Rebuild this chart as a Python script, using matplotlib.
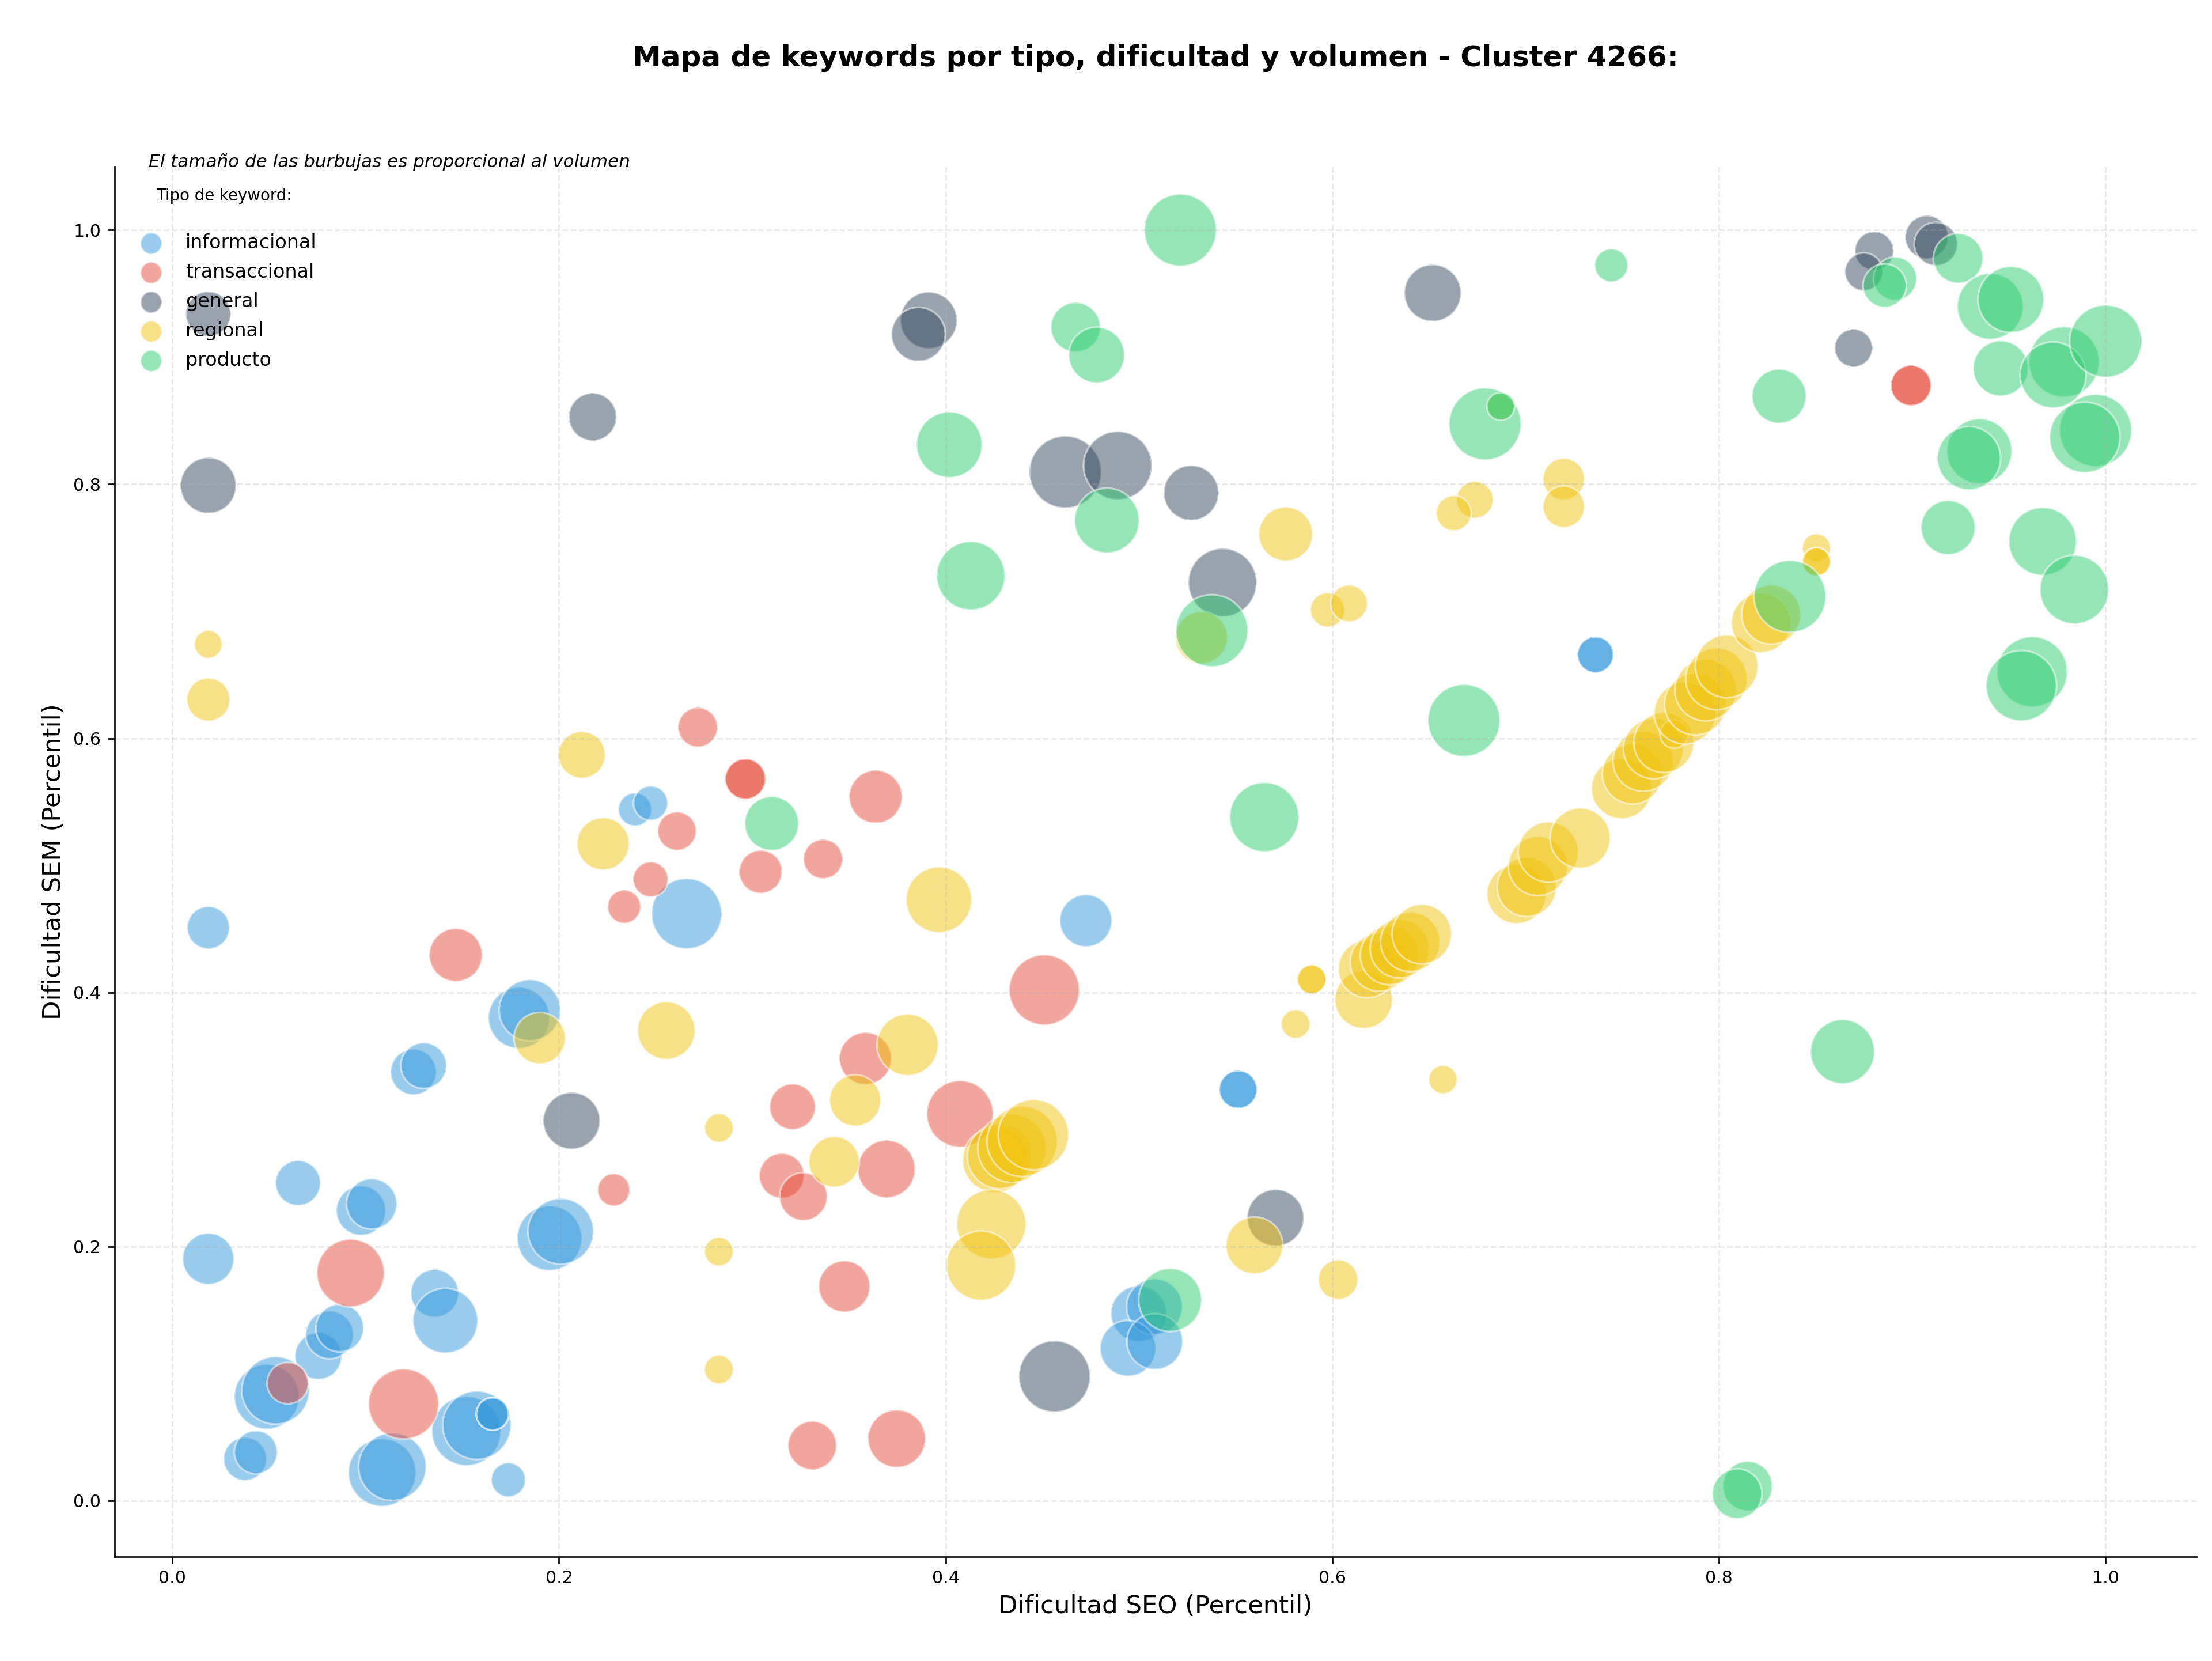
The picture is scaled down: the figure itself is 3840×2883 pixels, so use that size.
import matplotlib
matplotlib.use("Agg")
import matplotlib.pyplot as plt

# Dificultad SEO (x), dificultad SEM (y) y volumen de cada keyword, por tipo
info_x = [0.2393, 0.2474, 0.266, 0.0186, 0.1793, 0.1849, 0.1247, 0.130, 0.065, 0.0976,
          0.1031, 0.0186, 0.1951, 0.2009, 0.1357, 0.1412, 0.0755, 0.0813, 0.0866, 0.0488,
          0.0534, 0.1521, 0.1575, 0.1656, 0.1656, 0.0376, 0.0432, 0.1085, 0.1138, 0.1738,
          0.4725, 0.4999, 0.508, 0.4943, 0.5082, 0.5513, 0.5513, 0.7361, 0.7361]
info_y = [0.544, 0.549, 0.462, 0.451, 0.380, 0.386, 0.3374, 0.3424, 0.25, 0.2283,
          0.2336, 0.1903, 0.2066, 0.212, 0.1632, 0.1416, 0.1138, 0.1305, 0.1359, 0.0818,
          0.0868, 0.0548, 0.0594, 0.0683, 0.0683, 0.0328, 0.0381, 0.0221, 0.0267, 0.0164,
          0.4565, 0.1472, 0.1526, 0.1199, 0.1252, 0.3236, 0.3236, 0.6658, 0.6658]
info_vol = [300, 320, 1340, 490, 1020, 1020, 570, 570, 550, 665,
            690, 715, 1140, 1170, 620, 1140, 595, 620, 620, 1140,
            1240, 1300, 1270, 285, 285, 505, 505, 1240, 1240, 320,
            740, 845, 845, 845, 845, 390, 390, 355, 355]

trans_x = [0.2718, 0.2964, 0.2964, 0.261, 0.2474, 0.2337, 0.3043, 0.3366, 0.3638, 0.1466,
           0.3208, 0.3152, 0.3264, 0.2283, 0.0922, 0.0597, 0.1196, 0.331, 0.3747, 0.451,
           0.3585, 0.4074, 0.3694, 0.3476, 0.8993, 0.8993]
trans_y = [0.6087, 0.568, 0.568, 0.527, 0.489, 0.4675, 0.495, 0.505, 0.554, 0.4295,
           0.31, 0.2557, 0.2393, 0.2446, 0.1792, 0.0925, 0.0761, 0.0434, 0.0488, 0.402,
           0.348, 0.3044, 0.261, 0.1686, 0.8777, 0.8777]
trans_vol = [425, 445, 445, 405, 335, 300, 505, 420, 765, 765,
             570, 550, 620, 285, 1240, 465, 1340, 640, 900, 1340,
             740, 1205, 900, 715, 445, 445]

gen_x = [0.0186, 0.2174, 0.0186, 0.2065, 0.4563, 0.5706, 0.3912, 0.3859, 0.6519, 0.4619,
         0.489, 0.527, 0.5432, 0.8803, 0.8749, 0.9075, 0.9122, 0.8696]
gen_y = [0.934, 0.853, 0.799, 0.299, 0.0978, 0.2226, 0.929, 0.918, 0.9505, 0.8096,
         0.8147, 0.7932, 0.7226, 0.9836, 0.9672, 0.9945, 0.9891, 0.9072]
gen_vol = [550, 620, 845, 875, 1375, 875, 875, 790, 875, 1410,
           1270, 820, 1270, 410, 390, 510, 510, 390]

reg_x = [0.0186, 0.0186, 0.2118, 0.2228, 0.19, 0.2555, 0.2827, 0.2827, 0.2827, 0.3965,
         0.3803, 0.3532, 0.3423, 0.4255, 0.428, 0.4343, 0.4396, 0.4454, 0.4236, 0.4183,
         0.5597, 0.603, 0.581, 0.5893, 0.5893, 0.6162, 0.618, 0.6243, 0.6297, 0.6348,
         0.6403, 0.6463, 0.6572, 0.5759, 0.6737, 0.6628, 0.5323, 0.5975, 0.6086, 0.6871,
         0.7197, 0.7197, 0.8504, 0.8504, 0.8504,
         0.6953, 0.7006, 0.7063, 0.7117, 0.7282, 0.7496, 0.7552, 0.7607, 0.7661, 0.7715,
         0.7768, 0.7824, 0.7878, 0.7931, 0.7987, 0.804, 0.8217, 0.827]
reg_y = [0.674, 0.6305, 0.587, 0.517, 0.364, 0.37, 0.2933, 0.196, 0.1032, 0.4729,
         0.3588, 0.315, 0.2667, 0.268, 0.271, 0.2773, 0.2827, 0.288, 0.2176, 0.185,
         0.2009, 0.1739, 0.3751, 0.4103, 0.4103, 0.3943, 0.4185, 0.4238, 0.4292, 0.4345,
         0.4398, 0.4459, 0.3314, 0.7608, 0.7878, 0.7772, 0.6793, 0.7011, 0.7062, 0.8613,
         0.8041, 0.7823, 0.75, 0.739, 0.739,
         0.4775, 0.483, 0.4995, 0.5105, 0.5215, 0.5604, 0.572, 0.582, 0.5919, 0.5967,
         0.6033, 0.6198, 0.627, 0.638, 0.6468, 0.6567, 0.6908, 0.6974]
reg_vol = [210, 505, 595, 740, 715, 900, 225, 225, 225, 1170,
           1020, 715, 690, 1140, 1140, 1270, 1340, 1340, 1300, 1300,
           875, 425, 225, 225, 225, 900, 900, 920, 940, 940,
           960, 960, 220, 790, 370, 335, 740, 320, 370, 210,
           470, 470, 215, 215, 215,
           950, 950, 950, 980, 980, 980, 980, 980, 980, 980,
           215, 1030, 1030, 1030, 1030, 1065, 950, 950]

prod_x = [0.31, 0.5214, 0.4672, 0.4781, 0.679, 0.6871, 0.4019, 0.4834, 0.413, 0.5377,
          0.6681, 0.5648, 0.5161, 0.7443, 0.8911, 0.8857, 0.9237, 0.9403, 0.951, 0.8311,
          0.9457, 0.9785, 0.9728, 1.0, 0.9347, 0.9293, 0.9948, 0.9892, 0.9185, 0.9674,
          0.9838, 0.962, 0.9564, 0.8367, 0.8639, 0.8148, 0.8094]
prod_y = [0.533, 1.0, 0.9236, 0.9017, 0.8475, 0.8613, 0.8311, 0.7714, 0.728, 0.6847,
          0.6141, 0.538, 0.1579, 0.9723, 0.9618, 0.9563, 0.9778, 0.94, 0.9454, 0.8693,
          0.8912, 0.8963, 0.886, 0.9126, 0.826, 0.8205, 0.8424, 0.8369, 0.7659, 0.755,
          0.7171, 0.6524, 0.6414, 0.7117, 0.3534, 0.0114, 0.0054]
prod_vol = [790, 1410, 665, 845, 1410, 210, 1170, 1140, 1270, 1410,
            1410, 1300, 1080, 300, 510, 510, 670, 1180, 1180, 795,
            825, 1345, 1180, 1415, 1150, 1085, 1415, 1345, 795, 1245,
            1280, 1345, 1345, 1405, 1115, 670, 670]

tipos = ["informacional", "transaccional", "general", "regional", "producto"]
colores = ["#3498db", "#e74c3c", "#34495e", "#f1c40f", "#2ecc71"]

series = [(info_x, info_y, info_vol), (trans_x, trans_y, trans_vol), (gen_x, gen_y, gen_vol),
          (reg_x, reg_y, reg_vol), (prod_x, prod_y, prod_vol)]

fig = plt.figure(figsize=(16, 12.0125), dpi=240)
ax = fig.add_axes([0.0517, 0.0629, 0.9413, 0.8368])

for (xs, ys, vols), tipo, color in zip(series, tipos, colores):
    ax.scatter(xs, ys, s=vols, c=color, alpha=0.5, edgecolors="white", linewidths=1, label=tipo)

ax.set_xlim(-0.03, 1.047)
ax.set_ylim(-0.044, 1.05)
ax.set_xlabel("Dificultad SEO (Percentil)", fontsize=13)
ax.set_ylabel("Dificultad SEM (Percentil)", fontsize=13)
ax.tick_params(labelsize=9)
ax.grid(True, linestyle="--", alpha=0.3)
ax.spines["top"].set_visible(False)
ax.spines["right"].set_visible(False)

# title centred over the axes, not the figure
fig.text(0.0517 + 0.9413 / 2, 0.965, "Mapa de keywords por tipo, dificultad y volumen - Cluster 4266:",
         fontsize=15, fontweight="bold", ha="center", va="center")

ax.text(0.0165, 0.997, "El tamaño de las burbujas es proporcional al volumen",
        transform=ax.transAxes, fontsize=9.3, style="italic", va="bottom", ha="left")

leg = ax.legend(title="Tipo de keyword:\n", loc="upper left", bbox_to_anchor=(0, 0.997),
                frameon=False, fontsize=10, title_fontsize=8.3, labelspacing=0.54)
for h in leg.legend_handles:
    h.set_sizes([125])

fig.savefig("out.png", dpi=240)
